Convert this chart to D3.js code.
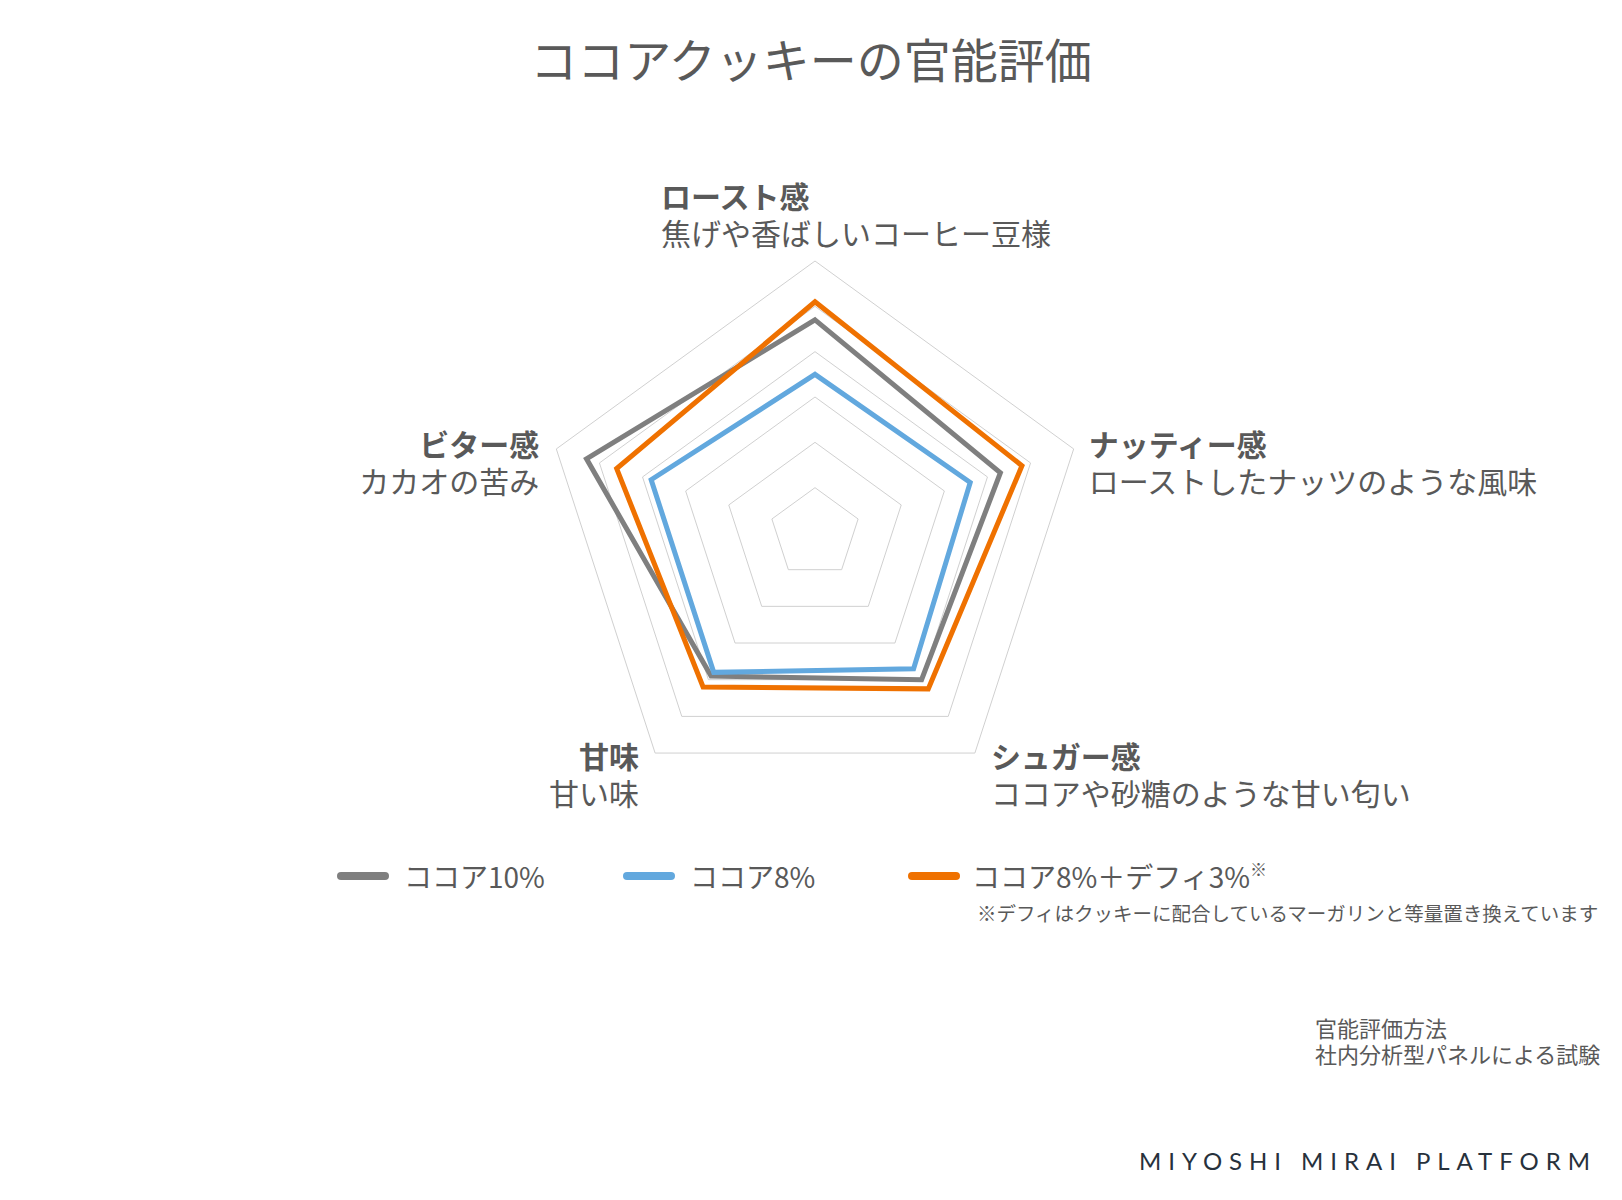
<!DOCTYPE html>
<html>
<head>
<meta charset="utf-8">
<script src="https://cdn.jsdelivr.net/npm/d3@7"></script>
<style>
  body { margin: 0; background: #fff; }
  svg { display: block; font-family: "Noto Sans CJK JP", "Noto Sans", sans-serif; }
</style>
</head>
<body>
<svg id="chart" width="1622" height="1200"></svg>
<script>
// axes of the radar, clockwise from the top
const axes = ["ロースト感", "ナッティー感", "シュガー感", "甘味", "ビター感"];
const axisNotes = ["焦げや香ばしいコーヒー豆様", "ローストしたナッツのような風味", "ココアや砂糖のような甘い匂い", "甘い味", "カカオの苦み"];

const seriesNames = ["ココア10%", "ココア8%", "ココア8%＋デフィ3%"];
const cocoa10 = [4.7, 4.3, 4.0, 3.9, 5.3];
const cocoa8 = [3.5, 3.6, 3.7, 3.8, 3.8];
const cocoa8Defi = [5.1, 4.8, 4.25, 4.2, 4.6];

const ringTicks = [1, 2, 3, 4, 5, 6];

const colors = ["#7f7f7f", "#62a8de", "#ef7100"];
const textColor = "#595959";

const svg = d3.select("#chart");
const cx = 815, cy = 533, R = 272;

const r = d3.scaleLinear().domain([0, 6]).range([0, R]);
const angle = d3.scaleLinear().domain([0, axes.length]).range([0, 2 * Math.PI]);

const g = svg.append("g").attr("transform", `translate(${cx},${cy})`);

// grid rings
const ringLine = d3.lineRadial()
  .angle((d, i) => angle(i))
  .radius(d => r(d))
  .curve(d3.curveLinearClosed);

g.selectAll(".ring")
  .data(ringTicks)
  .enter()
  .append("path")
  .attr("class", "ring")
  .attr("fill", "none")
  .attr("stroke", "#d0d0d0")
  .attr("stroke-width", 1)
  .attr("d", t => ringLine(axes.map(() => t)));

// series
const seriesData = [cocoa10, cocoa8, cocoa8Defi];
g.selectAll(".series")
  .data(seriesData)
  .enter()
  .append("path")
  .attr("class", "series")
  .attr("fill", "none")
  .attr("stroke", (d, i) => colors[i])
  .attr("stroke-width", 5)
  .attr("stroke-linejoin", "miter")
  .attr("d", d => ringLine(d));

// axis labels, placed from the outer vertex
function vertex(i) {
  const a = angle(i);
  return [cx + r(6) * Math.sin(a), cy - r(6) * Math.cos(a)];
}
const labelLayout = [
  { dx: -154, dy: -53, anchor: "start", vx: "center" },
  { dx: 15, dy: 7, anchor: "start" },
  { dx: 16, dy: 15, anchor: "start" },
  { dx: -16, dy: 15, anchor: "end" },
  { dx: -17, dy: 7, anchor: "end" }
];
axes.forEach((name, i) => {
  const [vx, vy] = vertex(i);
  const L = labelLayout[i];
  const x = (L.vx === "center" ? cx : vx) + L.dx;
  const y = vy + L.dy;
  const t = svg.append("text")
    .attr("x", x).attr("y", y)
    .attr("text-anchor", L.anchor)
    .attr("fill", textColor)
    .attr("font-size", 30);
  t.append("tspan").attr("x", x).attr("font-weight", 700).text(name);
  t.append("tspan").attr("x", x).attr("dy", 37).text(axisNotes[i]);
});

// title
svg.append("text")
  .attr("x", 811).attr("y", 78)
  .attr("text-anchor", "middle")
  .attr("font-size", 47)
  .attr("font-weight", 400)
  .attr("fill", textColor)
  .text("ココアクッキーの官能評価");

// legend
const legendX = [337, 623, 905];
const legendY = 876;
const leg = svg.selectAll(".legend")
  .data(seriesNames)
  .enter()
  .append("g")
  .attr("class", "legend")
  .attr("transform", (d, i) => `translate(${legendX[i]},${legendY})`);
leg.append("line")
  .attr("x1", (d, i) => i === 2 ? 7 : 4)
  .attr("x2", (d, i) => i === 2 ? 51 : 48)
  .attr("stroke", (d, i) => colors[i])
  .attr("stroke-width", 8)
  .attr("stroke-linecap", "round");
const legText = leg.append("text")
  .attr("x", 67).attr("y", 12)
  .attr("font-size", 28)
  .attr("fill", textColor)
  .text(d => d);
legText.filter((d, i) => i === 2)
  .append("tspan")
  .attr("font-size", 17)
  .attr("dy", -12)
  .text("※");

svg.append("text")
  .attr("x", 977).attr("y", 921)
  .attr("font-size", 19.5)
  .attr("fill", textColor)
  .text("※デフィはクッキーに配合しているマーガリンと等量置き換えています");

// method note
const method = svg.append("text")
  .attr("x", 1315).attr("y", 1037)
  .attr("font-size", 22)
  .attr("fill", textColor);
method.append("tspan").attr("x", 1315).text("官能評価方法");
method.append("tspan").attr("x", 1315).attr("dy", 26).text("社内分析型パネルによる試験");

// brand
svg.append("text")
  .attr("x", 1139).attr("y", 1170)
  .attr("font-family", "Lato, 'Open Sans', sans-serif")
  .attr("font-size", 24)
  .attr("fill", "#27313c")
  .attr("textLength", 451)
  .attr("lengthAdjust", "spacing")
  .text("MIYOSHI MIRAI PLATFORM");
</script>
</body>
</html>
